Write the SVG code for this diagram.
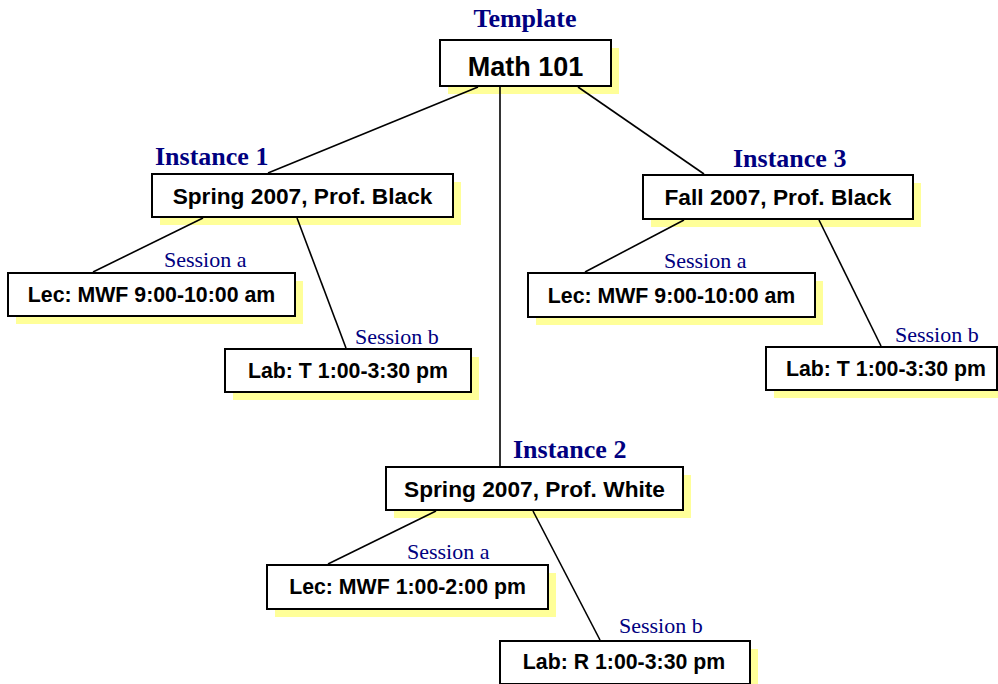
<svg xmlns="http://www.w3.org/2000/svg" width="998" height="684" viewBox="0 0 998 684">
<style>
.bg{fill:#ffffff}
.sh{fill:#ffff99}
.box{fill:#ffffff;stroke:#000000;stroke-width:2}
.t{font-family:"Liberation Sans",Arial,sans-serif;font-weight:bold;fill:#000000;text-anchor:middle}
.big{font-size:27px}
.mid{font-size:22.7px}
.sm{font-size:21.3px}
.lbl{font-family:"Liberation Serif","Times New Roman",serif;font-weight:bold;font-size:26px;fill:#000080}
.ses{font-family:"Liberation Serif","Times New Roman",serif;font-size:22px;fill:#000080}
.ln{stroke:#000000;stroke-width:1.6;fill:none}
</style>
<rect class="bg" x="0" y="0" width="998" height="684"/>
<g id="template">
<text class="lbl" x="525" y="27" text-anchor="middle">Template</text>
<rect class="sh" x="448" y="48" width="171" height="46"/>
<rect class="box" x="440" y="40" width="171" height="46"/>
<text class="t big" x="525.5" y="76">Math 101</text>
</g>
<g id="instance1">
<text class="lbl" x="155" y="165">Instance 1</text>
<rect class="sh" x="160" y="182" width="301" height="43"/>
<rect class="box" x="152" y="174" width="301" height="43"/>
<text class="t mid" x="302.5" y="204">Spring 2007, Prof. Black</text>
</g>
<g id="instance3">
<text class="lbl" x="733" y="167">Instance 3</text>
<rect class="sh" x="651" y="183" width="270" height="44"/>
<rect class="box" x="643" y="175" width="270" height="44"/>
<text class="t mid" x="778" y="205">Fall 2007, Prof. Black</text>
</g>
<g id="instance2">
<text class="lbl" x="513" y="458">Instance 2</text>
<rect class="sh" x="394" y="475" width="297" height="43"/>
<rect class="box" x="386" y="467" width="297" height="43"/>
<text class="t mid" x="534.5" y="497">Spring 2007, Prof. White</text>
</g>
<g id="i1-session-a">
<text class="ses" x="164" y="267">Session a</text>
<rect class="sh" x="16" y="281" width="287" height="43"/>
<rect class="box" x="8" y="273" width="287" height="43"/>
<text class="t sm" x="151.5" y="302">Lec: MWF 9:00-10:00 am</text>
</g>
<g id="i1-session-b">
<text class="ses" x="355" y="344">Session b</text>
<rect class="sh" x="233" y="357" width="246" height="43"/>
<rect class="box" x="225" y="349" width="246" height="43"/>
<text class="t sm" x="348" y="378">Lab: T 1:00-3:30 pm</text>
</g>
<g id="i3-session-a">
<text class="ses" x="664" y="268">Session a</text>
<rect class="sh" x="536" y="281" width="287" height="44"/>
<rect class="box" x="528" y="273" width="287" height="44"/>
<text class="t sm" x="671.5" y="303">Lec: MWF 9:00-10:00 am</text>
</g>
<g id="i3-session-b">
<text class="ses" x="895" y="342">Session b</text>
<rect class="sh" x="774" y="355" width="231" height="43"/>
<rect class="box" x="766" y="347" width="231" height="43"/>
<text class="t sm" x="886" y="376">Lab: T 1:00-3:30 pm</text>
</g>
<g id="i2-session-a">
<text class="ses" x="407" y="559">Session a</text>
<rect class="sh" x="275" y="573" width="281" height="44"/>
<rect class="box" x="267" y="565" width="281" height="44"/>
<text class="t sm" x="407.5" y="594">Lec: MWF 1:00-2:00 pm</text>
</g>
<g id="i2-session-b">
<text class="ses" x="619" y="633">Session b</text>
<rect class="sh" x="508" y="649" width="250" height="43"/>
<rect class="box" x="500" y="641" width="250" height="43"/>
<text class="t sm" x="624" y="669">Lab: R 1:00-3:30 pm</text>
</g>
<g id="connectors">
<line class="ln" x1="478" y1="87" x2="268" y2="173"/>
<line class="ln" x1="500" y1="87" x2="500" y2="466"/>
<line class="ln" x1="578" y1="87" x2="704" y2="174"/>
<line class="ln" x1="203" y1="218" x2="93" y2="272"/>
<line class="ln" x1="297" y1="218" x2="346" y2="348"/>
<line class="ln" x1="684" y1="220" x2="585" y2="272"/>
<line class="ln" x1="819" y1="220" x2="881" y2="346"/>
<line class="ln" x1="436" y1="511" x2="328" y2="564"/>
<line class="ln" x1="533" y1="511" x2="600" y2="640"/>
</g>
</svg>
